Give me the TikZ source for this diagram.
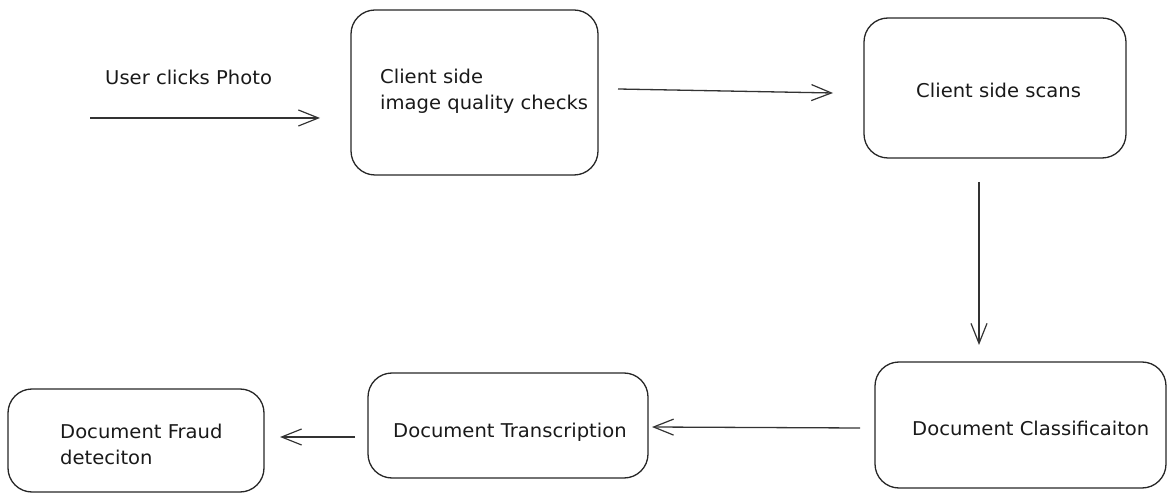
\documentclass[tikz,border=0pt]{standalone}
\usepackage{fontspec}
\newfontfamily\handfont[FakeStretch=1.03]{DejaVu Sans}
\usetikzlibrary{arrows.meta}
\tikzset{
  box/.style={draw=black!85, line width=1.3pt, rounded corners=24pt, inner sep=0pt},
  txt/.style={font=\handfont\fontsize{19}{26}\selectfont, inner sep=0pt, anchor=west, align=left, text=black!90},
  arr/.style={draw=black!80, line width=1.3pt, -{Straight Barb[length=20pt,width=16pt,line width=1.2pt]}}
}
\begin{document}
\begin{tikzpicture}[x=1pt,y=-1pt]
\useasboundingbox (0,0) rectangle (1175,502);
% boxes
\node[box, minimum width=247pt, minimum height=165pt] (b1) at (474.5,92.5) {};
\node[box, minimum width=262pt, minimum height=140pt] (b2) at (995,88) {};
\node[box, minimum width=291pt, minimum height=126pt] (b3) at (1020.5,425) {};
\node[box, minimum width=280pt, minimum height=105pt] (b4) at (508,425.5) {};
\node[box, minimum width=256pt, minimum height=103pt] (b5) at (136,440.5) {};
% texts
\node[txt] (t0) at (105,77) {User clicks Photo};
\node[txt] (t1) at (380,91) {Client side\\image quality checks};
\node[txt] (t2) at (916,90) {Client side scans};
\node[txt] (t3) at (912,428) {Document Classificaiton};
\node[txt] (t4) at (393,432) {Document Transcription};
\node[txt] (t5) at (60,444) {Document Fraud\\deteciton};
% connector ends
\coordinate (s0) at (90,118);
\coordinate (e0) at (320,118);
\coordinate (s1) at (618,89);
\coordinate (e1) at (833,93);
\coordinate (s2) at (979,182);
\coordinate (e2) at (979,345);
\coordinate (s3) at (860,428);
\coordinate (e3) at (652,427);
\coordinate (s4) at (355,437);
\coordinate (e4) at (280,437);
% connectors
\draw[arr] (s0) -- (e0);
\draw[arr] (s1) -- (e1);
\draw[arr] (s2) -- (e2);
\draw[arr] (s3) -- (e3);
\draw[arr] (s4) -- (e4);
\end{tikzpicture}
\end{document}
